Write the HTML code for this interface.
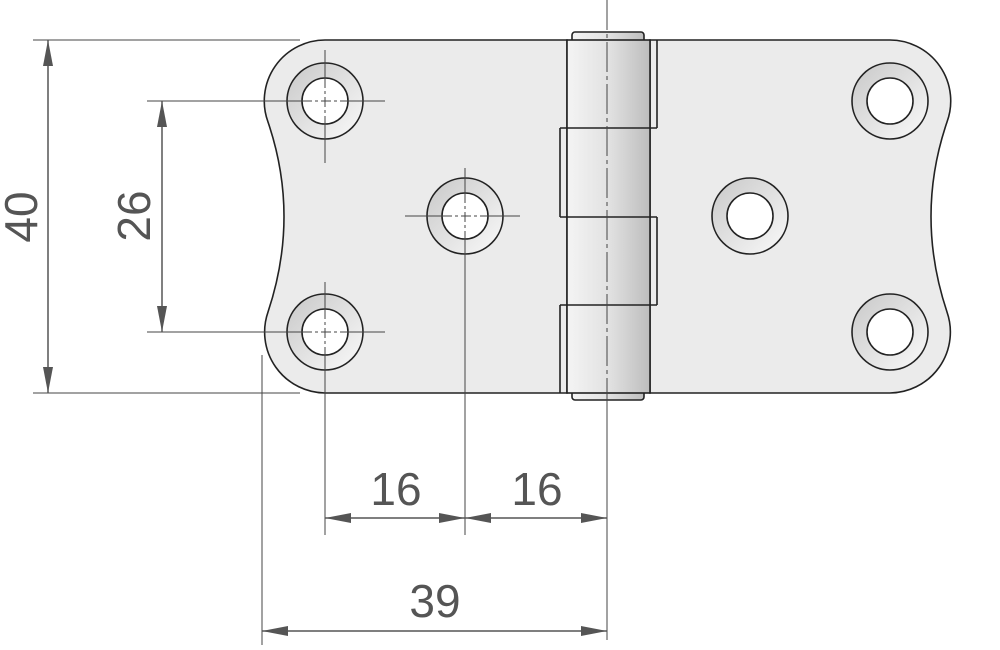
<!DOCTYPE html>
<html><head><style>body{margin:0;background:#fff}svg{display:block}</style></head><body>
<svg width="1000" height="650" viewBox="0 0 1000 650" xmlns="http://www.w3.org/2000/svg">
<defs>
<linearGradient id="ring" x1="0" y1="0" x2="1" y2="1"><stop offset="0" stop-color="#c8c8c8"/><stop offset="1" stop-color="#fafafa"/></linearGradient>
<linearGradient id="pin" x1="0" y1="0" x2="1" y2="0"><stop offset="0" stop-color="#f4f4f4"/><stop offset="0.5" stop-color="#e2e2e2"/><stop offset="1" stop-color="#bdbdbd"/></linearGradient>
<marker id="a" viewBox="0 0 26 10" refX="26" refY="5" markerWidth="26" markerHeight="10" markerUnits="userSpaceOnUse" orient="auto-start-reverse"><path d="M0,0 L26,5 L0,10Z" fill="#555"/></marker>
</defs>
<g stroke="#222" stroke-width="1.6" fill="#ebebeb">
<path d="M325,40 L567,40 L567,393 L325,393 A61,61 0 0 1 268,312 Q300,216 268,122 A61,61 0 0 1 325,40Z"/>
<path d="M890,40 L650,40 L650,393 L890,393 A61,61 0 0 0 947,312 Q915,216 947,122 A61,61 0 0 0 890,40Z"/>
<rect x="572" y="32" width="72" height="368" rx="3" fill="url(#pin)"/>
<rect x="567" y="40" width="83" height="353" fill="url(#pin)"/>
<path d="M657,40 V128 M560,128 H657 M560,128 V217 M560,217 H657 M657,217 V305 M560,305 H657 M560,305 V393" fill="none"/>
<g>
<circle cx="325" cy="101" r="38" fill="url(#ring)"/><circle cx="325" cy="101" r="23" fill="#fff"/>
<circle cx="325" cy="332" r="38" fill="url(#ring)"/><circle cx="325" cy="332" r="23" fill="#fff"/>
<circle cx="465" cy="216" r="38" fill="url(#ring)"/><circle cx="465" cy="216" r="23" fill="#fff"/>
<circle cx="890" cy="101" r="38" fill="url(#ring)"/><circle cx="890" cy="101" r="23" fill="#fff"/>
<circle cx="890" cy="332" r="38" fill="url(#ring)"/><circle cx="890" cy="332" r="23" fill="#fff"/>
<circle cx="750" cy="216" r="38" fill="url(#ring)"/><circle cx="750" cy="216" r="23" fill="#fff"/>
</g>
</g>
<g stroke="#444" stroke-width="1" fill="none">
<path d="M325,78 V124 M325,309 V355 M465,193 V239 M302,101 H348 M302,332 H348 M442,216 H488" stroke-dasharray="10,3,3,3"/>
<path d="M607,0 V393" stroke-dasharray="30,4,4,4"/>
<path d="M325,50 V78 M325,124 V163 M325,282 V309 M325,355 V535 M465,168 V193 M465,239 V535 M247,101 H302 M348,101 H385 M247,332 H302 M348,332 H385 M405,216 H442 M488,216 H520"/>
<path d="M607,393 V640 M262,355 V645 M33,40 H300 M33,393 H300 M147,101 H250 M147,332 H250"/>
</g>
<g stroke="#555" stroke-width="1.5" fill="none">
<line x1="48" y1="217" x2="48" y2="40" marker-end="url(#a)"/><line x1="48" y1="217" x2="48" y2="393" marker-end="url(#a)"/>
<line x1="162" y1="216" x2="162" y2="101" marker-end="url(#a)"/><line x1="162" y1="216" x2="162" y2="332" marker-end="url(#a)"/>
<line x1="395" y1="518" x2="325" y2="518" marker-end="url(#a)"/><line x1="395" y1="518" x2="465" y2="518" marker-end="url(#a)"/>
<line x1="536" y1="518" x2="465" y2="518" marker-end="url(#a)"/><line x1="536" y1="518" x2="607" y2="518" marker-end="url(#a)"/>
<line x1="435" y1="631" x2="262" y2="631" marker-end="url(#a)"/><line x1="435" y1="631" x2="607" y2="631" marker-end="url(#a)"/>
</g>
<g font-family="Liberation Sans, sans-serif" font-size="46" fill="#555" text-anchor="middle">
<text x="396" y="505">16</text><text x="537" y="505">16</text><text x="435" y="617">39</text>
<text transform="translate(37,217) rotate(-90)">40</text>
<text transform="translate(150,216) rotate(-90)">26</text>
</g>
</svg>
</body></html>
